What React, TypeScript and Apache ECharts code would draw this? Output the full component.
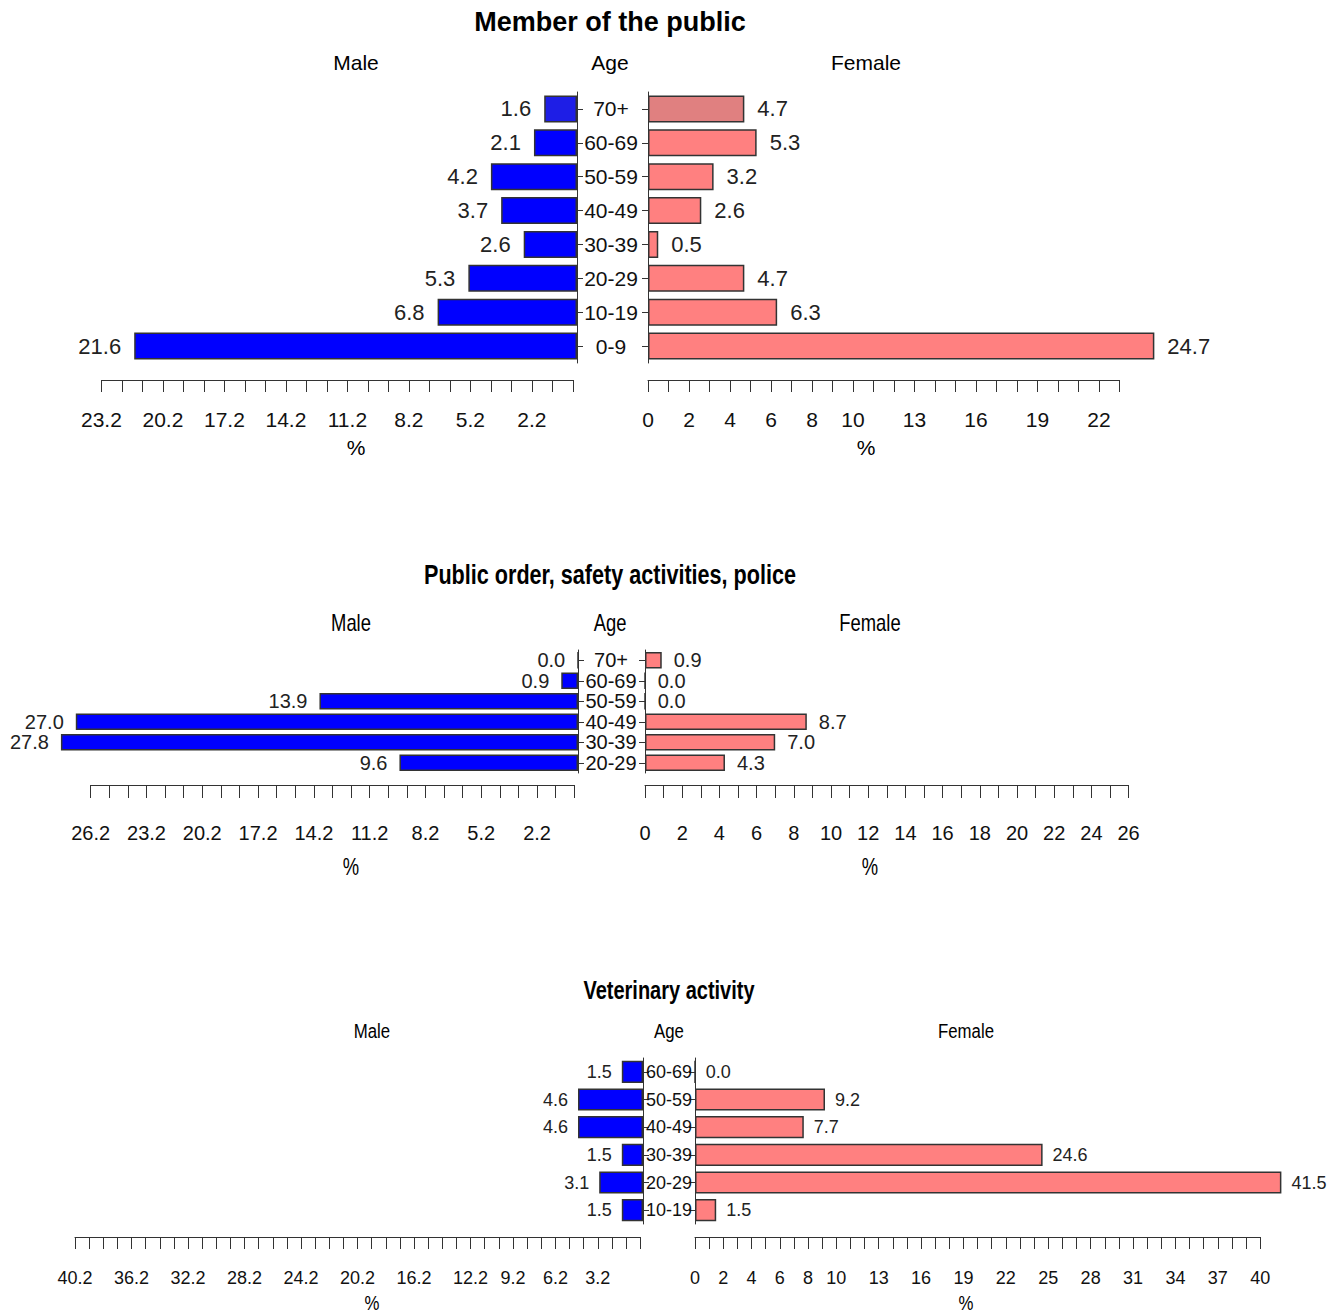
import React, { useEffect, useRef } from "react";
import * as echarts from "echarts";

// ---------------- Data ----------------
const titles = ["Member of the public", "Public order, safety activities, police", "Veterinary activity"];

const ages1 = ["70+", "60-69", "50-59", "40-49", "30-39", "20-29", "10-19", "0-9"];
const male1 = [1.6, 2.1, 4.2, 3.7, 2.6, 5.3, 6.8, 21.6];
const female1 = [4.7, 5.3, 3.2, 2.6, 0.5, 4.7, 6.3, 24.7];
const maleTicks1 = [2.2, 5.2, 8.2, 11.2, 14.2, 17.2, 20.2, 23.2];
const femaleTicks1 = [0, 2, 4, 6, 8, 10, 13, 16, 19, 22];

const ages2 = ["70+", "60-69", "50-59", "40-49", "30-39", "20-29"];
const male2 = [0.0, 0.9, 13.9, 27.0, 27.8, 9.6];
const female2 = [0.9, 0.0, 0.0, 8.7, 7.0, 4.3];
const maleTicks2 = [2.2, 5.2, 8.2, 11.2, 14.2, 17.2, 20.2, 23.2, 26.2];
const femaleTicks2 = [0, 2, 4, 6, 8, 10, 12, 14, 16, 18, 20, 22, 24, 26];

const ages3 = ["60-69", "50-59", "40-49", "30-39", "20-29", "10-19"];
const male3 = [1.5, 4.6, 4.6, 1.5, 3.1, 1.5];
const female3 = [0.0, 9.2, 7.7, 24.6, 41.5, 1.5];
const maleTicks3 = [3.2, 6.2, 9.2, 12.2, 16.2, 20.2, 24.2, 28.2, 32.2, 36.2, 40.2];
const femaleTicks3 = [0, 2, 4, 6, 8, 10, 13, 16, 19, 22, 25, 28, 31, 34, 37, 40];

// ---------------- Styles / layout ----------------
const MALE = "#0000FF";
const FEMALE = "#FF8080";
const MALE_HI = "#1E1EE6";
const FEMALE_HI = "#E08080";
const BORDER = "#333333";
const TXT = "#111111";
const FAM = '"Liberation Sans", Arial, sans-serif';

type Geo = {
  squeeze: number; // horizontal squeeze of free texts
  titleX: number; titleY: number; titleSize: number;
  headY: number; maleHeadX: number; ageHeadX: number; femaleHeadX: number; headSize: number;
  pctY: number;
  mOrigin: number; fOrigin: number; scale: number;
  top: number; bottom: number; axisY: number;
  mAxisMin: number; mAxisMax: number; fAxisMax: number;
  tickLen: number; labelMargin: number; tickSize: number;
  valueSize: number; valueDist: number; ageSize: number; ageX: number; barV: number;
  highlightFirst: boolean;
};

const geos: Geo[] = [
  {
    squeeze: 1, titleX: 610, titleY: 22, titleSize: 27,
    headY: 62, maleHeadX: 356, ageHeadX: 610, femaleHeadX: 866, headSize: 21,
    pctY: 447, mOrigin: 577, fOrigin: 648, scale: 20.5,
    top: 92, bottom: 363, axisY: 380, mAxisMin: 0.2, mAxisMax: 23.2, fAxisMax: 23,
    tickLen: 12, labelMargin: 29, tickSize: 21, valueSize: 22, valueDist: 13, ageSize: 21, ageX: 611, barV: 26,
    highlightFirst: true,
  },
  {
    squeeze: 0.8, titleX: 610, titleY: 575, titleSize: 27,
    headY: 623, maleHeadX: 351, ageHeadX: 610, femaleHeadX: 870, headSize: 23,
    pctY: 867, mOrigin: 578, fOrigin: 645, scale: 18.6,
    top: 650, bottom: 773, axisY: 785, mAxisMin: 0.2, mAxisMax: 26.2, fAxisMax: 26,
    tickLen: 13, labelMargin: 38, tickSize: 20, valueSize: 20, valueDist: 12, ageSize: 20, ageX: 611, barV: 30,
    highlightFirst: false,
  },
  {
    squeeze: 0.8, titleX: 669, titleY: 991, titleSize: 25,
    headY: 1031, maleHeadX: 372, ageHeadX: 669, femaleHeadX: 966, headSize: 21,
    pctY: 1303, mOrigin: 643, fOrigin: 695, scale: 14.13,
    top: 1058, bottom: 1224, axisY: 1237, mAxisMin: 0.2, mAxisMax: 40.2, fAxisMax: 40,
    tickLen: 12, labelMargin: 32, tickSize: 18, valueSize: 18, valueDist: 10, ageSize: 18, ageX: 669, barV: 44,
    highlightFirst: false,
  },
];

const panels = [
  { ages: ages1, male: male1, female: female1, maleTicks: maleTicks1, femaleTicks: femaleTicks1 },
  { ages: ages2, male: male2, female: female2, maleTicks: maleTicks2, femaleTicks: femaleTicks2 },
  { ages: ages3, male: male3, female: female3, maleTicks: maleTicks3, femaleTicks: femaleTicks3 },
];

function textEl(text: string, x: number, y: number, font: string, squeeze: number) {
  return {
    type: "text",
    x,
    y,
    scaleX: squeeze,
    silent: true,
    style: {
      text,
      font,
      fill: "#000",
      textAlign: "center",
      textVerticalAlign: "middle",
      align: "center",
      verticalAlign: "middle",
    },
  };
}

function buildOption() {
  const grid: any[] = [];
  const xAxis: any[] = [];
  const yAxis: any[] = [];
  const series: any[] = [];
  const graphic: any[] = [];

  panels.forEach((p, pi) => {
    const g = geos[pi];
    const lineStyle = { color: BORDER, width: 1 };

    // male bars grid
    const gm = grid.length;
    grid.push({ left: g.mOrigin - g.barV * g.scale, width: g.barV * g.scale, top: g.top, height: g.bottom - g.top });
    xAxis.push({ gridIndex: gm, type: "value", min: 0, max: g.barV, inverse: true, show: false });
    yAxis.push({
      gridIndex: gm, type: "category", data: p.ages, inverse: true, position: "right",
      axisLine: { show: true, lineStyle },
      axisTick: { show: true, alignWithLabel: true, length: 6, lineStyle, interval: 0 },
      axisLabel: {
        show: true, interval: 0, margin: g.ageX - g.mOrigin, align: "center",
        fontSize: g.ageSize, fontFamily: FAM, color: TXT, hideOverlap: false,
      },
      splitLine: { show: false },
    });
    series.push({
      type: "bar", xAxisIndex: xAxis.length - 1, yAxisIndex: yAxis.length - 1,
      barCategoryGap: "20%",
      data: p.male.map((v, i) => ({
        value: v,
        itemStyle: { color: g.highlightFirst && i === 0 ? MALE_HI : MALE },
      })),
      itemStyle: { borderColor: BORDER, borderWidth: 1.5 },
      label: {
        show: true, position: "left", distance: g.valueDist,
        formatter: (d: any) => Number(d.value).toFixed(1),
        fontSize: g.valueSize, fontFamily: FAM, color: "#222",
      },
      labelLayout: { hideOverlap: false },
      clip: false,
    });

    // female bars grid
    const gf = grid.length;
    grid.push({ left: g.fOrigin, width: g.barV * g.scale, top: g.top, height: g.bottom - g.top });
    xAxis.push({ gridIndex: gf, type: "value", min: 0, max: g.barV, show: false });
    yAxis.push({
      gridIndex: gf, type: "category", data: p.ages, inverse: true, position: "left",
      axisLine: { show: true, lineStyle },
      axisTick: { show: true, alignWithLabel: true, length: 6, lineStyle, interval: 0 },
      axisLabel: { show: false, interval: 0 },
      splitLine: { show: false },
    });
    series.push({
      type: "bar", xAxisIndex: xAxis.length - 1, yAxisIndex: yAxis.length - 1,
      barCategoryGap: "20%",
      data: p.female.map((v, i) => ({
        value: v,
        itemStyle: { color: g.highlightFirst && i === 0 ? FEMALE_HI : FEMALE },
      })),
      itemStyle: { borderColor: BORDER, borderWidth: 1.5 },
      label: {
        show: true, position: "right", distance: g.valueDist,
        formatter: (d: any) => Number(d.value).toFixed(1),
        fontSize: g.valueSize, fontFamily: FAM, color: "#222",
      },
      labelLayout: { hideOverlap: false },
      clip: false,
    });

    // male scale axis
    const ga = grid.length;
    grid.push({
      left: g.mOrigin - g.mAxisMax * g.scale,
      width: (g.mAxisMax - g.mAxisMin) * g.scale,
      top: g.axisY - 10, height: 10,
    });
    xAxis.push({
      gridIndex: ga, type: "value", min: g.mAxisMin, max: g.mAxisMax, interval: 1, inverse: true,
      position: "bottom",
      axisLine: { show: true, onZero: false, lineStyle },
      axisTick: { show: true, length: g.tickLen, inside: false, lineStyle },
      axisLabel: {
        show: true, customValues: p.maleTicks, formatter: (v: number) => v.toFixed(1),
        margin: g.labelMargin, fontSize: g.tickSize, fontFamily: FAM, color: TXT,
        hideOverlap: false, showMinLabel: true, showMaxLabel: true,
      },
      splitLine: { show: false },
    });
    yAxis.push({ gridIndex: ga, type: "value", min: 0, max: 1, show: false });

    // female scale axis
    const gb = grid.length;
    grid.push({ left: g.fOrigin, width: g.fAxisMax * g.scale, top: g.axisY - 10, height: 10 });
    xAxis.push({
      gridIndex: gb, type: "value", min: 0, max: g.fAxisMax, interval: 1,
      position: "bottom",
      axisLine: { show: true, onZero: false, lineStyle },
      axisTick: { show: true, length: g.tickLen, inside: false, lineStyle },
      axisLabel: {
        show: true, customValues: p.femaleTicks, formatter: (v: number) => String(v),
        margin: g.labelMargin, fontSize: g.tickSize, fontFamily: FAM, color: TXT,
        hideOverlap: false, showMinLabel: true, showMaxLabel: true,
      },
      splitLine: { show: false },
    });
    yAxis.push({ gridIndex: gb, type: "value", min: 0, max: 1, show: false });

    // texts
    graphic.push(textEl(titles[pi], g.titleX, g.titleY, `bold ${g.titleSize}px ${FAM}`, g.squeeze));
    const hf = `${g.headSize}px ${FAM}`;
    graphic.push(textEl("Male", g.maleHeadX, g.headY, hf, g.squeeze));
    graphic.push(textEl("Age", g.ageHeadX, g.headY, hf, g.squeeze));
    graphic.push(textEl("Female", g.femaleHeadX, g.headY, hf, g.squeeze));
    graphic.push(textEl("%", g.maleHeadX, g.pctY, hf, g.squeeze));
    graphic.push(textEl("%", g.femaleHeadX, g.pctY, hf, g.squeeze));
  });

  return {
    animation: false,
    backgroundColor: "#ffffff",
    grid,
    xAxis,
    yAxis,
    series,
    graphic,
  };
}

export default function App() {
  const ref = useRef<HTMLDivElement>(null);
  useEffect(() => {
    if (!ref.current) return;
    const chart = echarts.init(ref.current, undefined, { renderer: "svg" });
    chart.setOption(buildOption() as any);
    return () => chart.dispose();
  }, []);
  return (
    <div
      ref={ref}
      style={{ position: "fixed", left: 0, top: 0, width: 1341, height: 1315, background: "#fff" }}
    />
  );
}
